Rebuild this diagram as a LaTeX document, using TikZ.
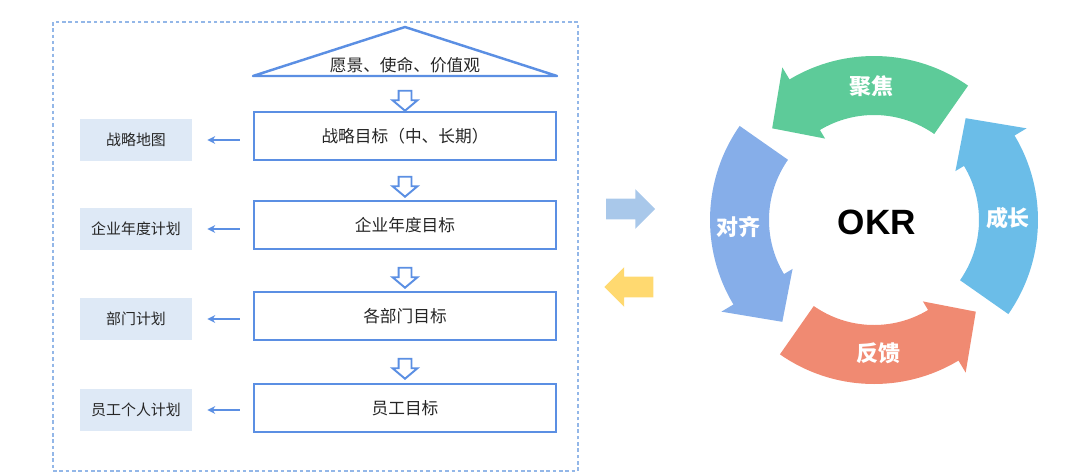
\documentclass[tikz,border=0pt]{standalone}
\usepackage{fontspec}
\setmainfont{Noto Sans CJK SC}
\newfontfamily\okrfont{Liberation Sans}
\usetikzlibrary{shapes.arrows,arrows.meta}
\definecolor{lineblue}{HTML}{5B8FE3}
\definecolor{mapfill}{HTML}{DEE9F6}
\definecolor{dashblue}{HTML}{93B7E8}
\definecolor{textgray}{HTML}{262626}
\definecolor{ringgreen}{HTML}{5DCB99}
\definecolor{ringblue}{HTML}{86AEE9}
\definecolor{ringsky}{HTML}{6BBDE8}
\definecolor{ringred}{HTML}{F08A72}
\definecolor{pushblue}{HTML}{A9C8EA}
\definecolor{pullyellow}{HTML}{FFD970}
% colour, tail angle, head angle, tip angle
\newcommand{\ringarrow}[4]{%
  \fill[#1] (#2:164) arc[start angle=#2, end angle=#3, radius=164] -- (#3:178) -- (#4:137)
    -- (#3:95) -- (#3:105) arc[start angle=#3, end angle=#2, radius=105] -- cycle;}
\begin{document}
\begin{tikzpicture}[x=0.02cm,y=0.02cm,
  goal/.style={draw=lineblue,line width=1.4pt,minimum width=6.05cm,minimum height=0.97cm,
    inner sep=0pt,text=textgray,font=\fontsize{9.5}{11}\selectfont},
  plan/.style={fill=mapfill,minimum width=2.24cm,minimum height=0.84cm,inner sep=0pt,
    text=textgray,font=\fontsize{8.5}{10}\selectfont},
  down/.style={single arrow,draw=lineblue,line width=1.1pt,fill=white,shape border rotate=270,
    minimum height=0.4cm,single arrow head extend=0.12cm,single arrow tip angle=100,
    inner xsep=0.11cm,inner ysep=0pt},
  toplan/.style={draw=lineblue,line width=1.1pt,-{Stealth[length=4.5pt,width=4.5pt]},
    shorten <=0.26cm,shorten >=0.3cm},
  block/.style={single arrow,minimum height=0.98cm,single arrow head extend=0.19cm,
    single arrow tip angle=90,inner xsep=0pt,inner ysep=0.2cm},
  ringlabel/.style={text=white,font=\fontsize{12.5}{14}\selectfont\bfseries}]
  % strategy cascade on the left, OKR cycle on the right
  \useasboundingbox (0,0) rectangle (1080,-474);
  \draw[dashblue,line width=0.6pt,dash pattern=on 2pt off 1.6pt] (53,-22) rectangle (578,-471);
  \coordinate (tl) at (253,-76);
  \coordinate (tt) at (405,-27);
  \coordinate (tr) at (557,-76);
  \draw[lineblue,line width=1.4pt,line join=round] (tl) -- (tt) -- (tr) -- cycle;
  \node[text=textgray,font=\fontsize{9.5}{11}\selectfont] (vision) at (405,-65) {愿景、使命、价值观};
  \node[goal] (g1) at (405,-136) {战略目标（中、长期）};
  \node[goal] (g2) at (405,-225) {企业年度目标};
  \node[goal] (g3) at (405,-316) {各部门目标};
  \node[goal] (g4) at (405,-408) {员工目标};
  \node[down] (d1) at (405,-98) {};
  \node[down] (d2) at (405,-184) {};
  \node[down] (d3) at (405,-275) {};
  \node[down] (d4) at (405,-366) {};
  \node[plan] (p1) at (136,-140) {战略地图};
  \node[plan] (p2) at (136,-229) {企业年度计划};
  \node[plan] (p3) at (136,-319) {部门计划};
  \node[plan] (p4) at (136,-410) {员工个人计划};
  \draw[toplan] (p1.east -| g1.west) -- (p1.east);
  \draw[toplan] (p2.east -| g2.west) -- (p2.east);
  \draw[toplan] (p3.east -| g3.west) -- (p3.east);
  \draw[toplan] (p4.east -| g4.west) -- (p4.east);
  \node[block,fill=pushblue] (push) at (625.5,-209) {};
  \node[block,fill=pullyellow,shape border rotate=180] (pull) at (634,-287) {};
  \begin{scope}[shift={(874,-220)}]
    \ringarrow{ringgreen}{55}{121}{138}
    \ringarrow{ringblue}{145}{211}{228}
    \ringarrow{ringred}{235}{301}{318}
    \ringarrow{ringsky}{-35}{31}{48}
    \node[ringlabel] (focus) at (91:134) {聚焦};
    \node[ringlabel] (align) at (183:136) {对齐};
    \node[ringlabel] (feedback) at (272:133) {反馈};
    \node[ringlabel] (grow) at (1:134) {成长};
  \end{scope}
  \node[font=\okrfont\fontsize{20}{22}\selectfont\bfseries] (okr) at (877,-222) {OKR};
\end{tikzpicture}
\end{document}
